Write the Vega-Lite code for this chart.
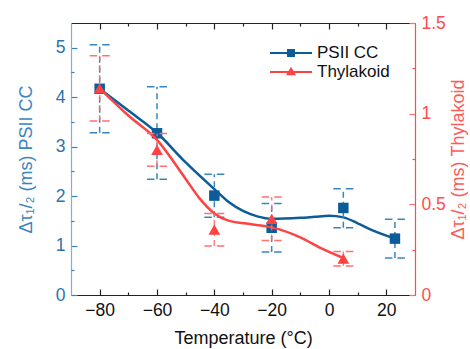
{
  "$schema": "https://vega.github.io/schema/vega-lite/v6.json",
  "width": 344,
  "height": 272,
  "autosize": {"type": "none"},
  "padding": {"left": 71, "top": 23, "right": 55, "bottom": 54},
  "config": {
    "font": "Liberation Sans",
    "view": {"stroke": null},
    "axis": {"grid": false, "labelFont": "Liberation Sans", "titleFont": "Liberation Sans", "labelFontSize": 17.5, "titleFontSize": 18, "titleFontWeight": "normal", "tickWidth": 1.2, "domainWidth": 1.2}
  },
  "datasets": {
    "psii": [
      {"T": -80, "y": 4.17, "lo": 3.28, "hi": 5.06},
      {"T": -60, "y": 3.27, "lo": 2.34, "hi": 4.21},
      {"T": -40, "y": 2.01, "lo": 1.57, "hi": 2.44},
      {"T": -20, "y": 1.36, "lo": 0.87, "hi": 1.85},
      {"T": 5, "y": 1.76, "lo": 1.36, "hi": 2.15},
      {"T": 23, "y": 1.14, "lo": 0.75, "hi": 1.53}
    ],
    "thyl": [
      {"T": -80, "y": 1.14, "lo": 0.96, "hi": 1.32},
      {"T": -60, "y": 0.80, "lo": 0.71, "hi": 0.89},
      {"T": -40, "y": 0.36, "lo": 0.27, "hi": 0.45},
      {"T": -20, "y": 0.42, "lo": 0.30, "hi": 0.54},
      {"T": 5, "y": 0.20, "lo": 0.16, "hi": 0.24}
    ],
    "psiiFit": [
      {"T": -80, "y": 4.17}, {"T": -70, "y": 3.73}, {"T": -60, "y": 3.28}, {"T": -50, "y": 2.68},
      {"T": -40, "y": 2.14}, {"T": -35, "y": 1.88}, {"T": -30, "y": 1.70}, {"T": -25, "y": 1.59},
      {"T": -20, "y": 1.54}, {"T": -10, "y": 1.56}, {"T": -5, "y": 1.58}, {"T": 0, "y": 1.60},
      {"T": 5, "y": 1.57}, {"T": 10, "y": 1.45}, {"T": 15, "y": 1.31}, {"T": 23, "y": 1.14}
    ],
    "thylFit": [
      {"T": -80, "y": 1.14}, {"T": -70, "y": 0.99}, {"T": -60, "y": 0.855}, {"T": -50, "y": 0.64},
      {"T": -45, "y": 0.53}, {"T": -40, "y": 0.45}, {"T": -35, "y": 0.41}, {"T": -27, "y": 0.39},
      {"T": -20, "y": 0.373}, {"T": -10, "y": 0.318}, {"T": -3, "y": 0.26}, {"T": 5, "y": 0.204}
    ]
  },
  "resolve": {"scale": {"y": "independent"}, "axis": {"x": "independent", "y": "independent"}},
  "layer": [
    {
      "data": {"name": "psii"},
      "resolve": {"axis": {"x": "independent", "y": "independent"}},
      "layer": [
        {
          "data": {"name": "psiiFit"},
          "mark": {"type": "line", "interpolate": "monotone", "color": "#0B5C99", "strokeWidth": 2.5},
          "encoding": {
            "x": {"field": "T", "type": "quantitative", "scale": {"domain": [-90, 30], "nice": false, "zero": false},
              "axis": {"orient": "bottom", "values": [-80, -60, -40, -20, 0, 20], "tickSize": -6, "tickColor": "#222", "domainColor": "#222", "labelColor": "#111", "labelPadding": 12, "title": "Temperature (°C)", "titleColor": "#111", "titlePadding": 11}},
            "y": {"field": "y", "type": "quantitative", "scale": {"domain": [0, 5.5], "nice": false},
              "axis": {"orient": "left", "values": [0, 1, 2, 3, 4, 5], "format": "~g", "tickSize": -6, "tickColor": "#3A7FB5", "domainColor": "#7FB0D4", "labelColor": "#2D74AD", "labelPadding": 12, "title": "Δτ₁/₂ (ms) PSII CC", "titleColor": "#3A86C0", "titlePadding": 20}}
          }
        },
        {
          "mark": {"type": "rule", "color": "#3A85BC", "strokeWidth": 1.5, "strokeDash": [6, 4]},
          "encoding": {
            "x": {"field": "T", "type": "quantitative",
              "axis": {"orient": "bottom", "values": [-70, -50, -30, -10, 10], "tickSize": -3, "tickColor": "#222", "labels": false, "domain": false, "title": null}},
            "y": {"field": "lo", "type": "quantitative",
              "axis": {"orient": "left", "values": [0.5, 1.5, 2.5, 3.5, 4.5], "tickSize": -3, "tickColor": "#3A7FB5", "labels": false, "domain": false, "title": null}},
            "y2": {"field": "hi"}
          }
        },
        {
          "mark": {"type": "point", "shape": "M-1,0H-0.25M0.25,0H1", "size": 400, "filled": false, "color": "#3A85BC", "strokeWidth": 1.5, "opacity": 1},
          "encoding": {
            "x": {"field": "T", "type": "quantitative",
              "axis": {"orient": "top", "values": [-80, -60, -40, -20, 0, 20], "tickSize": -6, "tickColor": "#222", "domainColor": "#222", "labels": false, "title": null}},
            "y": {"field": "lo", "type": "quantitative", "axis": null}
          }
        },
        {
          "mark": {"type": "point", "shape": "M-1,0H-0.25M0.25,0H1", "size": 400, "filled": false, "color": "#3A85BC", "strokeWidth": 1.5, "opacity": 1},
          "encoding": {
            "x": {"field": "T", "type": "quantitative",
              "axis": {"orient": "top", "values": [-70, -50, -30, -10, 10], "tickSize": -3, "tickColor": "#222", "labels": false, "domain": false, "title": null}},
            "y": {"field": "hi", "type": "quantitative", "axis": null}
          }
        },
        {
          "mark": {"type": "point", "shape": "square", "filled": true, "size": 110, "color": "#0B5C99", "opacity": 1},
          "encoding": {
            "x": {"field": "T", "type": "quantitative", "axis": null},
            "y": {"field": "y", "type": "quantitative", "axis": null}
          }
        }
      ]
    },
    {
      "data": {"name": "thyl"},
      "resolve": {"axis": {"x": "independent", "y": "independent"}},
      "layer": [
        {
          "data": {"name": "thylFit"},
          "mark": {"type": "line", "interpolate": "monotone", "color": "#FF4242", "strokeWidth": 2.5},
          "encoding": {
            "x": {"field": "T", "type": "quantitative", "axis": null},
            "y": {"field": "y", "type": "quantitative", "scale": {"domain": [0, 1.5], "nice": false},
              "axis": {"orient": "right", "values": [0, 0.5, 1, 1.5], "format": "~g", "tickSize": -6, "tickColor": "#FF7070", "domainColor": "#FF4D4D", "labelColor": "#FF4D4D", "labelPadding": 12, "title": "Δτ₁/₂ (ms) Thylakoid", "titleColor": "#FF5A5A", "titleAngle": 270, "titleBaseline": "top", "titlePadding": 4}}
          }
        },
        {
          "mark": {"type": "rule", "color": "#FF6B6B", "strokeWidth": 1.5, "strokeDash": [6, 4], "opacity": 0.85},
          "encoding": {
            "x": {"field": "T", "type": "quantitative", "axis": null},
            "y": {"field": "lo", "type": "quantitative",
              "axis": {"orient": "right", "values": [0.25, 0.75, 1.25], "tickSize": -3, "tickColor": "#FF4D4D", "labels": false, "domain": false, "title": null}},
            "y2": {"field": "hi"}
          }
        },
        {
          "mark": {"type": "point", "shape": "M-1,0H-0.25M0.25,0H1", "size": 400, "filled": false, "color": "#FF7070", "strokeWidth": 1.5, "opacity": 1},
          "encoding": {
            "x": {"field": "T", "type": "quantitative", "axis": null},
            "y": {"field": "lo", "type": "quantitative", "axis": null}
          }
        },
        {
          "mark": {"type": "point", "shape": "M-1,0H-0.25M0.25,0H1", "size": 400, "filled": false, "color": "#FF7070", "strokeWidth": 1.5, "opacity": 1},
          "encoding": {
            "x": {"field": "T", "type": "quantitative", "axis": null},
            "y": {"field": "hi", "type": "quantitative", "axis": null}
          }
        },
        {
          "mark": {"type": "point", "shape": "triangle-up", "filled": true, "size": 140, "color": "#FF4242", "opacity": 1},
          "encoding": {
            "x": {"field": "T", "type": "quantitative", "axis": null},
            "y": {"field": "y", "type": "quantitative", "axis": null}
          }
        }
      ]
    },
    {
      "data": {"values": []},
      "mark": {"type": "point", "filled": true, "opacity": 1, "size": 441},
      "encoding": {
        "color": {"field": "s", "type": "nominal",
          "scale": {"domain": ["PSII CC", "Thylakoid"], "range": ["#0B5C99", "#FF4242"]},
          "legend": {"orient": "none", "legendX": 209.5, "legendY": 19.5, "padding": 0, "title": null, "labelFontSize": 17, "labelFont": "Liberation Sans", "labelColor": "#111", "labelOffset": 15.5, "symbolSize": 441, "symbolStrokeWidth": 0, "symbolOpacity": 1, "rowPadding": 0}},
        "shape": {"field": "s", "type": "nominal",
          "scale": {"domain": ["PSII CC", "Thylakoid"], "range": ["M-2,-0.1H2V0.1H-2ZM-0.38,-0.38H0.38V0.38H-0.38Z", "M-2,-0.1H2V0.1H-2ZM0,-0.5L0.48,0.3H-0.48Z"]},
          "legend": {"orient": "none", "legendX": 209.5, "legendY": 19.5, "padding": 0, "title": null, "labelFontSize": 17, "labelFont": "Liberation Sans", "labelColor": "#111", "labelOffset": 15.5, "symbolSize": 441, "symbolStrokeWidth": 0, "symbolOpacity": 1, "rowPadding": 0}}
      }
    }
  ]
}
